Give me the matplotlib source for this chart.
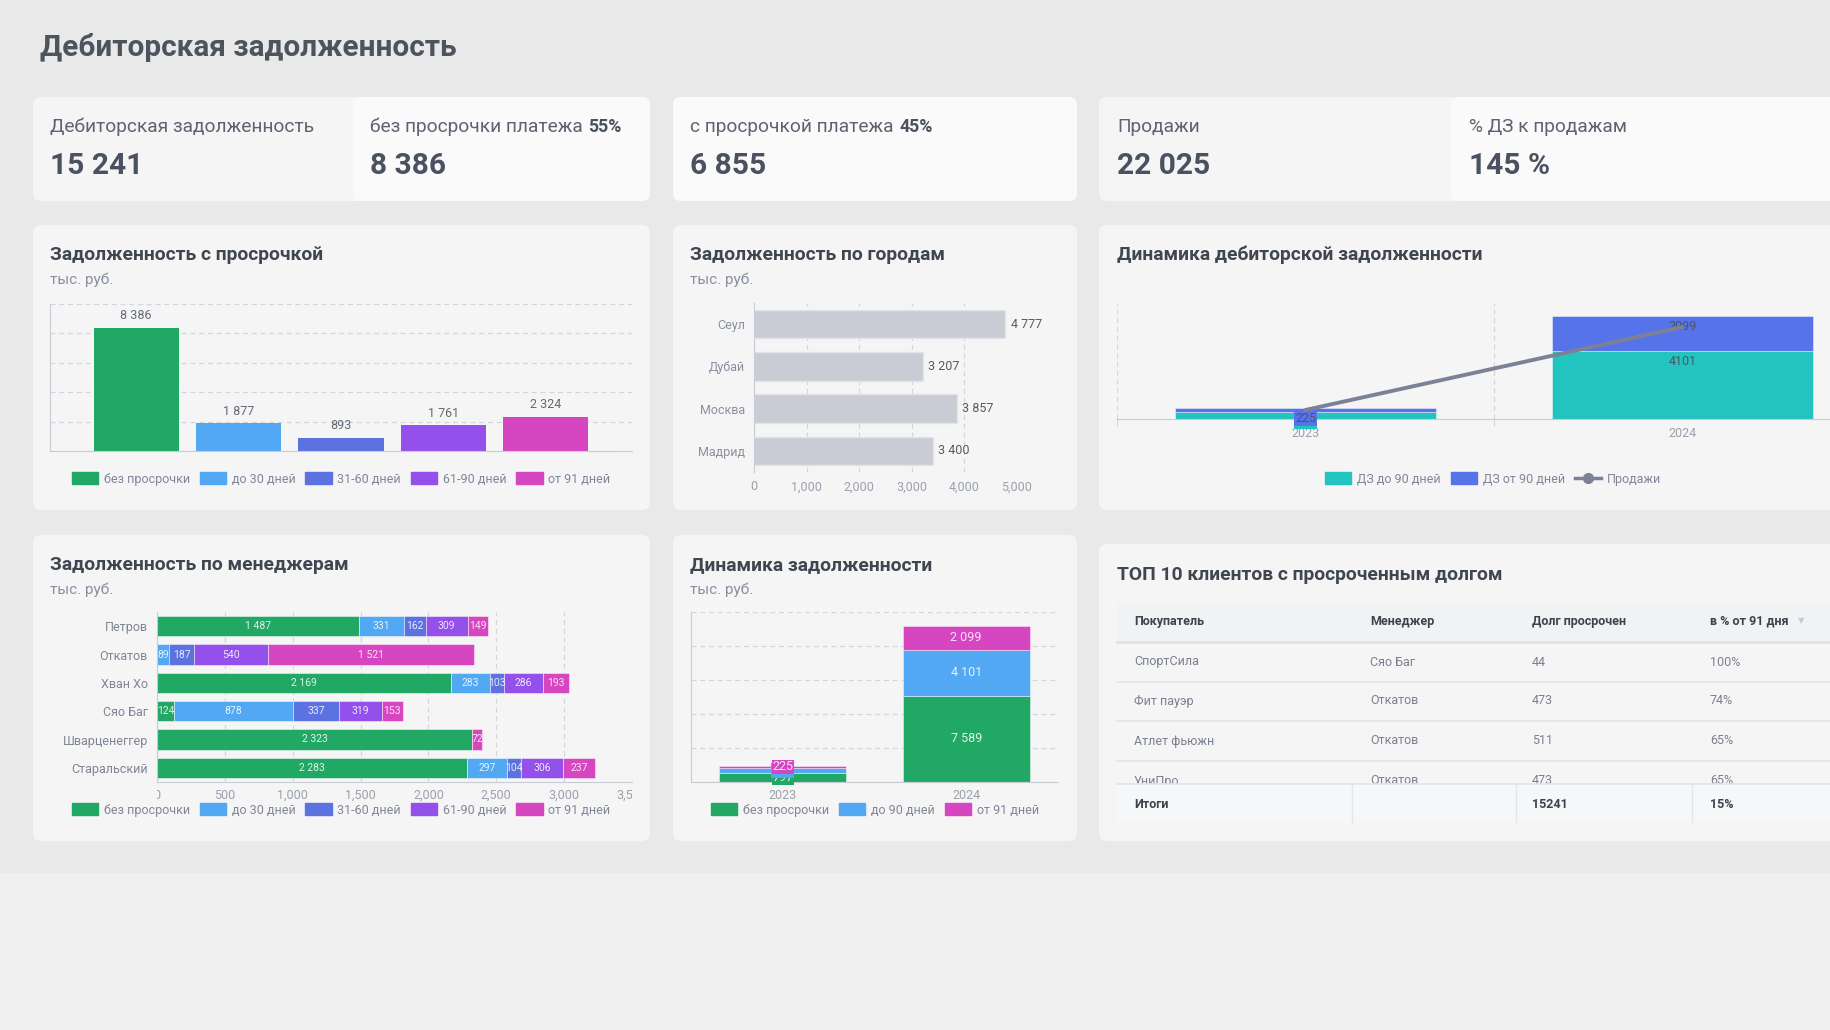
import matplotlib
matplotlib.use("Agg")
import matplotlib.pyplot as plt
from matplotlib.patches import FancyBboxPatch, Rectangle, Patch
from matplotlib.lines import Line2D
from matplotlib.transforms import Bbox, TransformedBbox

plt.rcParams['font.family'] = ['Roboto', 'DejaVu Sans']

# ---- данные ----
aging_labels = ['без просрочки', 'до 30 дней', '31-60 дней', '61-90 дней', 'от 91 дней']
aging_colors = ['#21a864', '#52a8f2', '#5b72e0', '#9350ea', '#d646c1']
aging_values = [8386, 1877, 893, 1761, 2324]

cities = ['Сеул', 'Дубай', 'Москва', 'Мадрид']
city_values = [4777, 3207, 3857, 3400]

years = ['2023', '2024']
dz_to90 = [430, 4101]
dz_from90 = [225, 2099]
sales = [1970, 20055]

managers = ['Петров', 'Откатов', 'Хван Хо', 'Сяо Баг', 'Шварценеггер', 'Старальский']
mgr_no_delay = [1487, 0, 2169, 124, 2323, 2283]
mgr_30 = [331, 89, 283, 878, 0, 297]
mgr_60 = [162, 187, 103, 337, 0, 104]
mgr_90 = [309, 540, 286, 319, 0, 306]
mgr_91 = [149, 1521, 193, 153, 72, 237]

dyn_no_delay = [797, 7589]
dyn_to90 = [430, 4101]
dyn_from91 = [225, 2099]

tbl_columns = ['Покупатель', 'Менеджер', 'Долг просрочен', 'в % от 91 дня']
tbl_buyers = ['СпортСила', 'Фит пауэр', 'Атлет фьюжн', 'УниПро']
tbl_managers = ['Сяо Баг', 'Откатов', 'Откатов', 'Откатов']
tbl_overdue = ['44', '473', '511', '473']
tbl_pct = ['100%', '74%', '65%', '65%']
tbl_total = ['Итоги', '', '15241', '15%']

GRID = '#d3d6dc'
AXC = '#c8ccd4'
TICK = '#9aa0ac'
LEG = '#80869a'


def fmt_space(v):
    return f"{v:,}".replace(",", " ")


W, H = 1831, 1030
fig = plt.figure(figsize=(W / 100, H / 100), dpi=100)
fig.patch.set_facecolor('#e9e9ea')
bg = fig.add_axes([0, 0, 1, 1])
bg.set_xlim(0, W)
bg.set_ylim(H, 0)
bg.axis('off')


def px_axes(x0, y0, x1, y1):
    return fig.add_axes([x0 / W, 1 - y1 / H, (x1 - x0) / W, (y1 - y0) / H])


def card(x0, y0, x1, y1, color='#f5f5f5', z=1):
    bg.add_patch(FancyBboxPatch((x0, y0), x1 - x0, y1 - y0,
                                boxstyle='round,pad=0,rounding_size=8',
                                fc=color, ec='none', zorder=z))


def legend_at(handles, labels, cx, cy):
    fig.legend(handles, labels, loc='center', bbox_to_anchor=(cx / W, 1 - cy / H),
               ncol=len(labels), frameon=False, fontsize=9, labelcolor=LEG,
               handlelength=2.1, handleheight=1.1, handletextpad=0.45,
               columnspacing=0.8)


bg.add_patch(Rectangle((0, 873), W, H - 873, fc='#f0f0f1', ec='none', zorder=0))
bg.text(40, 47, 'Дебиторская задолженность', fontsize=21.4, fontweight='bold',
        color='#4d545e', va='center')

# KPI карточки
card(33, 97, 650, 201)
card(353, 97, 650, 201, '#fafafa', 2)
card(673, 97, 1077, 201, '#fafafa')
card(1099, 97, 1900, 201)
card(1451, 97, 1900, 201, '#fafafa', 2)


def kpi(x, label, bold_part, value):
    t = bg.text(x, 126.5, label, fontsize=13.75, color='#5d6370', va='center', zorder=5)
    if bold_part:
        bg.annotate(bold_part, xy=(1, 0), xycoords=t, xytext=(4, 0),
                    textcoords='offset points', fontsize=12.8, fontweight='bold',
                    color='#4a5160', va='bottom', zorder=5)
    bg.text(x, 166.5, value, fontsize=21.5, fontweight='bold', color='#4a5160',
            va='center', zorder=5)


kpi(50, 'Дебиторская задолженность', None, '15 241')
kpi(370, 'без просрочки платежа', '55%', '8 386')
kpi(690, 'с просрочкой платежа', '45%', '6 855')
kpi(1117, 'Продажи', None, '22 025')
kpi(1469, '% ДЗ к продажам', None, '145 %')

# панели
card(33, 225, 650, 510)
card(673, 225, 1077, 510)
card(1099, 225, 1900, 510)
card(33, 535, 650, 841)
card(673, 535, 1077, 841)
card(1099, 544, 1900, 841)


def panel_title(x, y, title, sub=None):
    bg.text(x, y, title, fontsize=13.85, fontweight='bold', color='#3f4650', va='center', zorder=5)
    if sub:
        bg.text(x, y + 24.5, sub, fontsize=11, color='#8a90a0', va='center', zorder=5)


panel_title(50, 255, 'Задолженность с просрочкой', 'тыс. руб.')
panel_title(690, 255, 'Задолженность по городам', 'тыс. руб.')
panel_title(1117, 255, 'Динамика дебиторской задолженности')
panel_title(50, 565, 'Задолженность по менеджерам', 'тыс. руб.')
panel_title(690, 565, 'Динамика задолженности', 'тыс. руб.')
panel_title(1117, 575, 'ТОП 10 клиентов с просроченным долгом')


def clean(ax, left=True, bottom=True):
    ax.set_facecolor('none')
    for s in ['top', 'right']:
        ax.spines[s].set_visible(False)
    ax.spines['left'].set_visible(left)
    ax.spines['bottom'].set_visible(bottom)
    ax.spines['left'].set_color(AXC)
    ax.spines['bottom'].set_color(AXC)
    ax.set_axisbelow(True)


# 1. Задолженность с просрочкой
ax1 = px_axes(50, 304, 632, 451)
clean(ax1)
xs = range(len(aging_values))
ax1.bar(xs, aging_values, width=0.83, color=aging_colors)
ax1.set_xlim(-0.84, 4.84)
ax1.set_ylim(0, 10000)
ax1.set_yticks(range(0, 10001, 2000))
ax1.yaxis.grid(True, ls=(0, (4, 3)), color=GRID, lw=0.9)
ax1.tick_params(length=0, labelleft=False, labelbottom=False)
for i, v in enumerate(aging_values):
    ax1.annotate(fmt_space(v), (i, v), xytext=(0, 4), textcoords='offset points',
                 ha='center', va='bottom', fontsize=9, color='#636a75')
legend_at([Patch(fc=c, ec=c) for c in aging_colors], aging_labels, 341, 479)

# 2. Задолженность по городам
ax2 = px_axes(754, 303, 1017, 472)
clean(ax2, bottom=False)
ys = range(len(cities))
ax2.barh(ys, city_values, height=0.67, color='#c9ccd4', edgecolor='#e2e4e8', lw=1)
ax2.set_xlim(0, 5000)
ax2.set_ylim(3.5, -0.5)
ax2.set_xticks(range(0, 5001, 1000))
ax2.set_xticklabels([f"{v:,}" for v in range(0, 5001, 1000)])
ax2.set_yticks(list(ys))
ax2.set_yticklabels(cities)
ax2.xaxis.grid(True, ls=(0, (4, 3)), color=GRID, lw=0.9)
ax2.tick_params(axis='x', length=0, labelsize=9, labelcolor=TICK, pad=6)
ax2.tick_params(axis='y', length=0, labelsize=9, labelcolor='#8a90a0', pad=6.5)
for i, v in enumerate(city_values):
    ax2.annotate(fmt_space(v), (v, i), xytext=(4, 0), textcoords='offset points',
                 ha='left', va='center', fontsize=9, color='#555b66')

# 3. Динамика дебиторской задолженности
teal, blue = '#22c4bf', '#5673ea'
ax3 = px_axes(1117, 303, 1871, 419)
clean(ax3, left=False)
x3 = range(len(years))
ax3.bar(x3, dz_to90, width=0.69, color=teal, edgecolor=(1, 1, 1, 0.5), lw=0.6)
ax3.bar(x3, dz_from90, bottom=dz_to90, width=0.69, color=blue, edgecolor=(1, 1, 1, 0.5), lw=0.6)
ax3.set_xlim(-0.5, 1.5)
ax3.set_ylim(0, 7000)
ax3.set_xticks(list(x3))
ax3.set_xticklabels(years)
ax3.set_xticks([-0.5, 0.5, 1.5], minor=True)
ax3.xaxis.grid(True, which='minor', ls=(0, (4, 3)), color=GRID, lw=0.9)
ax3.tick_params(axis='x', which='major', length=0, labelsize=9, labelcolor=TICK, pad=6)
ax3.tick_params(axis='x', which='minor', length=5, color=AXC)
ax3.tick_params(axis='y', length=0, labelleft=False)
for series, bottoms, col in [(dz_to90, [0, 0], teal), (dz_from90, dz_to90, blue)]:
    for i, (v, b) in enumerate(zip(series, bottoms)):
        ax3.annotate(str(v), (i, b + v), xytext=(0, -7.5), textcoords='offset points',
                     ha='center', va='center', fontsize=9, color='#4e5462',
                     bbox=dict(boxstyle='square,pad=0.05', fc=col, ec='none'))
ax3b = ax3.twinx()
ax3b.set_ylim(0, 25290)
ax3b.plot(list(x3), sales, color='#7d8196', lw=2.8, solid_capstyle='round')
ax3b.axis('off')
legend_at([Patch(fc=teal, ec=teal), Patch(fc=blue, ec=blue),
           Line2D([0], [0], color='#7d8196', lw=2.5, marker='o', markersize=7)],
          ['ДЗ до 90 дней', 'ДЗ от 90 дней', 'Продажи'], 1493, 479)

# 4. Задолженность по менеджерам
ax4 = px_axes(157, 612, 632, 782)
clean(ax4)
ym = range(len(managers))
left = [0] * len(managers)
for series, col in zip([mgr_no_delay, mgr_30, mgr_60, mgr_90, mgr_91], aging_colors):
    ax4.barh(ym, series, left=left, height=0.71, color=col, edgecolor=(1, 1, 1, 0.55), lw=0.6)
    for i, (v, l) in enumerate(zip(series, left)):
        if v > 0:
            ax4.text(l + v / 2, i, fmt_space(v), ha='center', va='center',
                     fontsize=7.5, color=(1, 1, 1, 0.85))
    left = [a + b for a, b in zip(left, series)]
ax4.set_xlim(0, 3500)
ax4.set_ylim(5.5, -0.5)
ax4.set_xticks(range(0, 3501, 500))
ax4.set_xticklabels([f"{v:,}" for v in range(0, 3501, 500)])
ax4.set_yticks(list(ym))
ax4.set_yticklabels(managers)
ax4.xaxis.grid(True, ls=(0, (4, 3)), color=GRID, lw=0.9)
ax4.tick_params(axis='x', length=0, labelsize=9, labelcolor=TICK, pad=5)
ax4.tick_params(axis='y', length=0, labelsize=9, labelcolor='#7f8594', pad=6.5)
clip4 = TransformedBbox(Bbox([[0, -1], [1, 1]]), ax4.transAxes)
for lab in ax4.get_xticklabels():
    lab.set_clip_box(clip4)
    lab.set_clip_on(True)
legend_at([Patch(fc=c, ec=c) for c in aging_colors], aging_labels, 341, 810)

# 5. Динамика задолженности
dyn_colors = ['#21a864', '#52a8f2', '#d646c1']
ax5 = px_axes(691, 612, 1058, 782)
clean(ax5)
x5 = range(len(years))
bottom = [0, 0]
for series, col in zip([dyn_no_delay, dyn_to90, dyn_from91], dyn_colors):
    ax5.bar(x5, series, bottom=bottom, width=0.69, color=col, edgecolor=(1, 1, 1, 0.5), lw=0.6)
    for i, (v, b) in enumerate(zip(series, bottom)):
        ax5.text(i, b + v / 2, fmt_space(v), ha='center', va='center', fontsize=9,
                 color=(1, 1, 1, 0.85), bbox=dict(boxstyle='square,pad=0.05', fc=col, ec='none'))
    bottom = [a + b for a, b in zip(bottom, series)]
ax5.set_xlim(-0.5, 1.5)
ax5.set_ylim(0, 15000)
ax5.set_yticks(range(0, 15001, 3000))
ax5.yaxis.grid(True, ls=(0, (4, 3)), color=GRID, lw=0.9)
ax5.set_xticks(list(x5))
ax5.set_xticklabels(years)
ax5.tick_params(axis='x', length=0, labelsize=9, labelcolor=TICK, pad=5)
ax5.tick_params(axis='y', length=0, labelleft=False)
legend_at([Patch(fc=c, ec=c) for c in dyn_colors],
          ['без просрочки', 'до 90 дней', 'от 91 дней'], 875, 810)

# 6. ТОП 10 клиентов
col_x = [1134, 1370, 1532, 1710]
bg.add_patch(Rectangle((1117, 604), W - 1117, 38, fc='#f1f2f4', ec='none', zorder=2))
bg.plot([1117, W], [642, 642], color='#e0e2e6', lw=2, zorder=3)
for x, c in zip(col_x, tbl_columns):
    bg.text(x, 621, c, fontsize=9, fontweight='bold', color='#3d434d', va='center', zorder=4)
bg.text(1801, 621, '▼', fontsize=6, color='#c5c9d0', ha='center', va='center', zorder=4)
row_y = [662, 701, 741, 781]
for k, y in enumerate(row_y):
    for x, val in zip(col_x, [tbl_buyers[k], tbl_managers[k], tbl_overdue[k], tbl_pct[k]]):
        bg.text(x, y, val, fontsize=9, color='#7a8090', va='center', zorder=3)
    if k < len(row_y) - 1:
        bg.plot([1117, W], [y + 20, y + 20], color='#e2e4e8', lw=1.2, zorder=3)
bg.add_patch(Rectangle((1117, 784), W - 1117, 38, fc='#f6f7f8', ec='none', zorder=5))
bg.plot([1117, W], [784, 784], color='#e2e4e8', lw=1.2, zorder=6)
for x in [1352, 1516, 1692]:
    bg.plot([x, x], [784, 822], color='#e4e6ea', lw=1, zorder=6)
for x, val in zip(col_x, tbl_total):
    bg.text(x, 804, val, fontsize=9, fontweight='bold', color='#3d434d', va='center', zorder=7)

fig.savefig('out.png', dpi=100, facecolor=fig.get_facecolor())
